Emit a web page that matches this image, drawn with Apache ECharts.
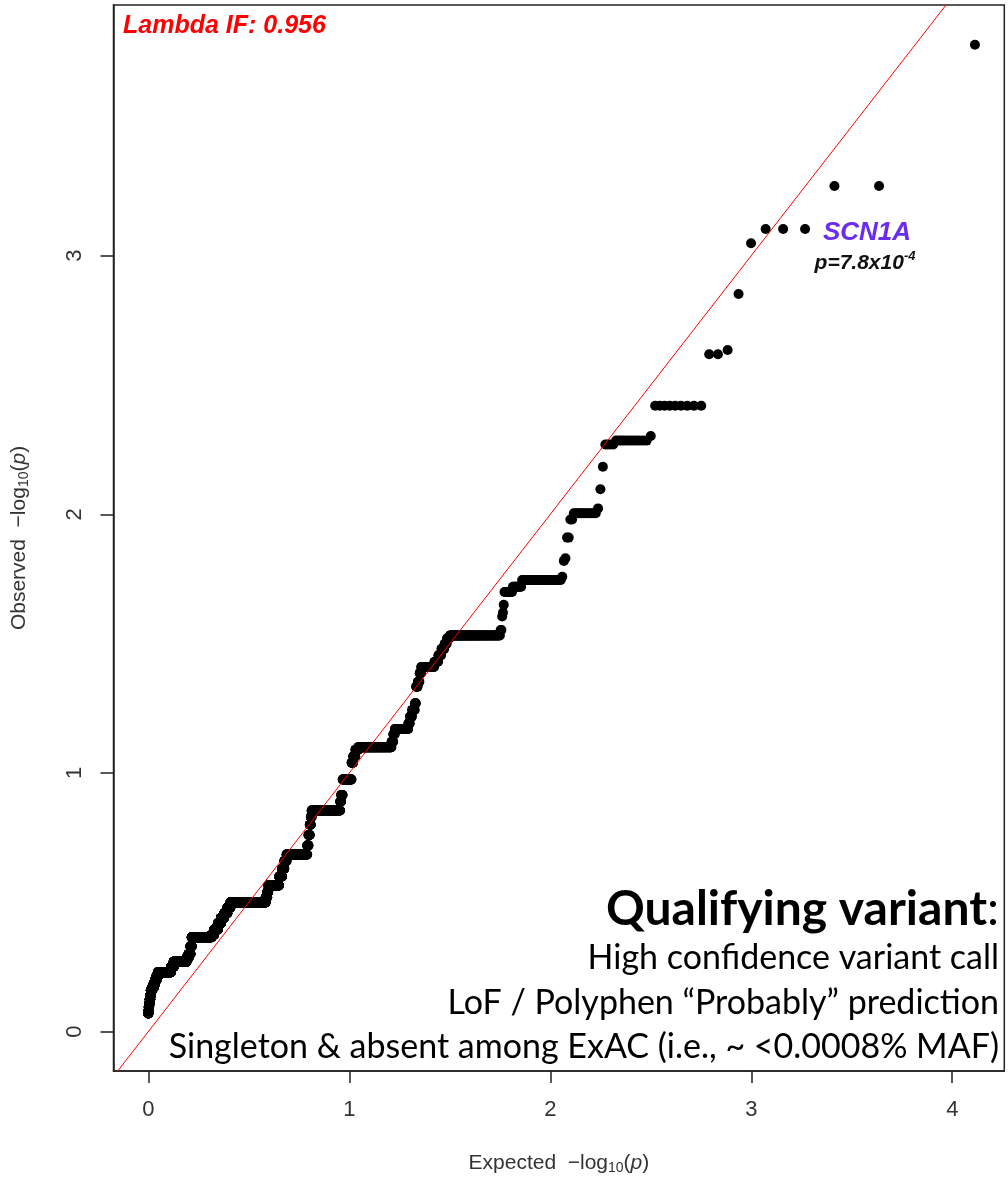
<!DOCTYPE html>
<html>
<head>
<meta charset="utf-8">
<title>Gene-based QQ plot</title>
<script src="https://cdn.jsdelivr.net/npm/echarts@6/dist/echarts.min.js"></script>
<style>
  html, body { margin: 0; padding: 0; background: #ffffff; }
  #chart { width: 1008px; height: 1181px; }
</style>
</head>
<body>
<div id="chart"></div>
<script>
// Observed -log10(p) levels, most significant first, and how many genes share each level.
const obsLevels = [
  3.815, 3.269, 3.103, 3.048, 2.852, 2.635, 2.619, 2.420, 2.303, 2.285,
  2.270, 2.184, 2.097, 2.023, 2.004, 1.980, 1.910, 1.830, 1.820, 1.759,
  1.746, 1.720, 1.700, 1.650, 1.620, 1.605, 1.553, 1.532, 1.521, 1.500,
  1.480, 1.455, 1.430, 1.410, 1.386, 1.353, 1.334, 1.270, 1.244, 1.218,
  1.192, 1.170, 1.150, 1.121, 1.100, 1.090, 1.065, 1.040, 0.975, 0.915,
  0.890, 0.855, 0.830, 0.800, 0.760, 0.720, 0.685, 0.660, 0.630, 0.600,
  0.565, 0.540, 0.520, 0.500, 0.480, 0.458, 0.440, 0.419, 0.395, 0.375,
  0.365, 0.330, 0.300, 0.285, 0.270, 0.250, 0.230, 0.215, 0.200, 0.185,
  0.170, 0.160, 0.140, 0.125, 0.110, 0.095, 0.080, 0.070
];
const obsCounts = [
  1, 2, 3, 1, 1, 1, 2, 9, 1, 10,
  4, 1, 1, 1, 12, 2, 2, 1, 1, 1,
  33, 10, 10, 1, 1, 1, 2, 90, 7, 6,
  8, 8, 11, 40, 5, 6, 6, 4, 10, 8,
  6, 55, 7, 8, 185, 20, 15, 12, 68, 12,
  8, 278, 10, 12, 15, 15, 280, 35, 35, 50,
  190, 20, 30, 840, 90, 100, 100, 100, 130, 90,
  804, 56, 90, 97, 663, 150, 800, 100, 100, 100,
  100, 100, 40, 40, 40, 30, 25, 10
];

const xTicks = [0, 1, 2, 3, 4];
const yTicks = [0, 1, 2, 3];

const lambdaText = 'Lambda IF: 0.956';
const geneName = 'SCN1A';
const geneP = { mantissa: 'p=7.8x10', exponent: '-4' };
const criteriaTitle = 'Qualifying variant';
const criteriaLines = [
  'High confidence variant call',
  'LoF / Polyphen \u201CProbably\u201D prediction',
  'Singleton & absent among ExAC (i.e., ~ <0.0008% MAF)'
];

// Expand the levels into one observed value per gene (sorted, descending)
const observed = [];
obsLevels.forEach((v, k) => {
  for (let c = 0; c < obsCounts[k]; c++) observed.push(v);
});
const N = observed.length;
// Expected -log10(p) from uniform plotting positions (i - 0.5) / N
const qqPoints = observed.map((v, idx) => [-Math.log10((idx + 0.5) / N), v]);

const axisFont = 'Liberation Sans, Arial, Helvetica, sans-serif';
const noteFont = 'Lato, Carlito, Calibri, sans-serif';

const chart = echarts.init(document.getElementById('chart'), null, { renderer: 'canvas' });

// Right-aligned criteria block in the lower-right corner of the plot
const criteriaY = [958, 1003, 1047];
const criteriaGraphics = criteriaLines.map((line, k) => ({
  type: 'text', z: 10,
  style: {
    text: line, x: 999, y: criteriaY[k],
    align: 'right', verticalAlign: 'middle',
    fontFamily: noteFont, fontSize: 34, fill: '#000'
  }
}));

chart.setOption({
  animation: false,
  backgroundColor: '#ffffff',
  grid: {
    left: 113.5, top: 5, right: 3.7, bottom: 110,
    show: true, borderColor: '#222', borderWidth: 1.5, backgroundColor: 'transparent'
  },
  xAxis: {
    type: 'value',
    min: -0.173, max: 4.259,
    splitLine: { show: false },
    axisLine: { show: true, onZero: false, lineStyle: { color: '#222', width: 1.5 } },
    axisTick: { show: true, inside: false, length: 12, lineStyle: { color: '#222', width: 1.5 }, customValues: xTicks },
    axisLabel: { customValues: xTicks, margin: 28, fontFamily: axisFont, fontSize: 22, color: '#333' },
    name: 'Expected  \u2212log{s|10}({i|p})',
    nameLocation: 'middle',
    nameGap: 80,
    nameTextStyle: {
      fontFamily: axisFont, fontSize: 21, color: '#333',
      rich: {
        s: { fontFamily: axisFont, fontSize: 14, color: '#333', padding: [10, 0, 0, 0] },
        i: { fontFamily: axisFont, fontSize: 21, color: '#333', fontStyle: 'italic' }
      }
    }
  },
  yAxis: {
    type: 'value',
    min: -0.152, max: 3.969,
    splitLine: { show: false },
    axisLine: { show: true, onZero: false, lineStyle: { color: '#222', width: 1.5 } },
    axisTick: { show: true, inside: false, length: 13, lineStyle: { color: '#222', width: 1.5 }, customValues: yTicks },
    axisLabel: { customValues: yTicks, rotate: 90, margin: 28, fontFamily: axisFont, fontSize: 22, color: '#333' },
    name: 'Observed  \u2212log{s|10}({i|p})',
    nameLocation: 'middle',
    nameGap: 82,
    nameTextStyle: {
      fontFamily: axisFont, fontSize: 21, color: '#333',
      rich: {
        s: { fontFamily: axisFont, fontSize: 14, color: '#333', padding: [10, 0, 0, 0] },
        i: { fontFamily: axisFont, fontSize: 21, color: '#333', fontStyle: 'italic' }
      }
    }
  },
  series: [
    {
      name: 'genes',
      type: 'scatter',
      data: qqPoints,
      symbol: 'circle',
      symbolSize: 10,
      itemStyle: { color: '#000000', opacity: 1 },
      progressive: 0,
      large: false,
      silent: true,
      z: 2
    },
    {
      name: 'identity',
      type: 'line',
      data: [[-1, -1], [5, 5]],
      symbol: 'none',
      clip: true,
      lineStyle: { color: '#ff0000', width: 1 },
      silent: true,
      z: 3
    }
  ],
  graphic: [
    {
      type: 'text', z: 10,
      style: {
        text: lambdaText, x: 123, y: 26,
        align: 'left', verticalAlign: 'middle',
        fontFamily: axisFont, fontSize: 25, fontWeight: 'bold', fontStyle: 'italic',
        fill: '#ff0000'
      }
    },
    {
      type: 'text', z: 10,
      style: {
        text: geneName, x: 867, y: 233,
        align: 'center', verticalAlign: 'middle',
        fontFamily: axisFont, fontSize: 26, fontWeight: 'bold', fontStyle: 'italic',
        fill: '#6a2cf0'
      }
    },
    {
      type: 'text', z: 10,
      style: {
        text: '{m|' + geneP.mantissa + '}{e|' + geneP.exponent + '}',
        x: 865, y: 262,
        align: 'center', verticalAlign: 'middle',
        rich: {
          m: { fontFamily: axisFont, fontSize: 21, fontWeight: 'bold', fontStyle: 'italic', fill: '#111', lineHeight: 24, verticalAlign: 'bottom' },
          e: { fontFamily: axisFont, fontSize: 13, fontWeight: 'bold', fontStyle: 'italic', fill: '#111', lineHeight: 24, verticalAlign: 'top' }
        }
      }
    },
    {
      type: 'text', z: 10,
      style: {
        text: '{b|' + criteriaTitle + '}{r|:}',
        x: 999, y: 910,
        align: 'right', verticalAlign: 'middle',
        rich: {
          b: { fontFamily: noteFont, fontSize: 48, fontWeight: 'bold', fill: '#000' },
          r: { fontFamily: noteFont, fontSize: 48, fill: '#000' }
        }
      }
    }
  ].concat(criteriaGraphics)
});
</script>
</body>
</html>
